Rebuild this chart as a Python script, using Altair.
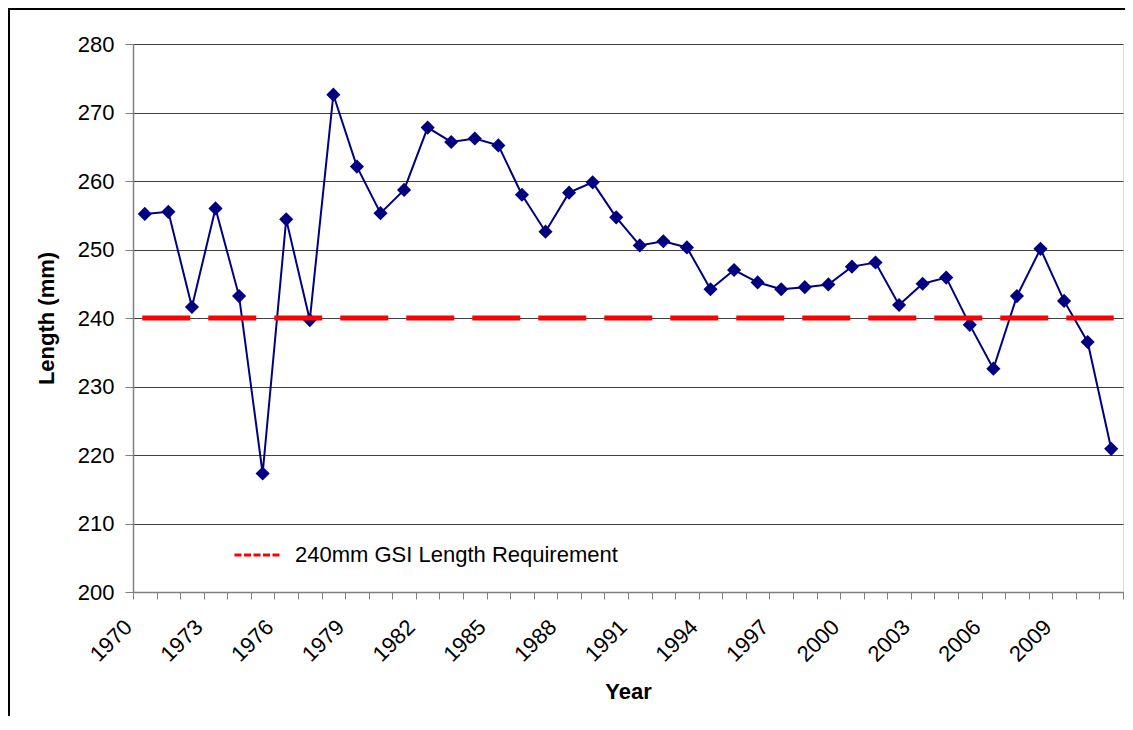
import altair as alt
import pandas as pd

FONT = "Liberation Sans"

years = list(range(1970, 2012))
lengths = [255.2, 255.5, 241.6, 256.0, 243.2, 217.3, 254.4, 239.7, 272.6, 262.1,
           255.3, 258.7, 267.8, 265.7, 266.2, 265.2, 258.0, 252.6, 258.3, 259.8,
           254.7, 250.6, 251.2, 250.3, 244.2, 247.0, 245.2, 244.2, 244.5, 244.9,
           247.5, 248.1, 241.9, 245.0, 245.9, 239.0, 232.6, 243.2, 250.1, 242.5,
           236.5, 220.9]
req_years = [1970, 2011]
req_values = [240, 240]
req_label = "240mm GSI Length Requirement"
y_ticks = [200, 210, 220, 230, 240, 250, 260, 270, 280]
# category boundaries (Excel-style ticks between categories)
x_ticks = [y - 0.5 for y in years] + [years[-1] + 0.5]

df = pd.DataFrame({"year": years, "length": lengths})
req = pd.DataFrame({"year": req_years, "length": req_values, "series": [req_label] * 2})

x_scale = alt.Scale(domain=[x_ticks[0], x_ticks[-1]], nice=False, zero=False)
y_scale = alt.Scale(domain=[200, 280], nice=False, zero=False)

x_axis = alt.Axis(
    values=x_ticks,
    labelExpr="((datum.value + 0.5 - 1970) % 3 == 0 && datum.value < 2011) ? format(datum.value + 0.5, 'd') : ''",
    labelAngle=315, labelAlign="right", labelBaseline="alphabetic",
    labelFont=FONT, labelFontSize=22, labelColor="black", labelPadding=29,
    labelOverlap=False, labelFlush=False, labelBound=False,
    tickSize=7, tickColor="#808080", domainColor="#808080", domainWidth=1.5,
    grid=False,
    title="Year", titleFont=FONT, titleFontSize=22, titleFontWeight="bold",
    titleColor="black", titlePadding=16,
)
y_axis = alt.Axis(
    values=y_ticks, labelFont=FONT, labelFontSize=22, labelColor="black",
    labelPadding=11, tickSize=8, tickColor="#808080", domainColor="#808080",
    domainWidth=1.5, grid=True, gridColor="#404040", gridWidth=1,
    title="Length (mm)", titleFont=FONT, titleFontSize=22, titleFontWeight="bold",
    titleColor="black", titlePadding=19,
)

X = alt.X("year:Q", scale=x_scale, axis=x_axis)
Y = alt.Y("length:Q", scale=y_scale, axis=y_axis)

base = alt.Chart(df).encode(x=X, y=Y)

navy_line = base.mark_line(color="#000080", strokeWidth=2)
navy_pts = base.mark_point(shape="diamond", filled=True, color="#000080", size=200, opacity=1)

red_line = alt.Chart(req).mark_line(strokeWidth=5, strokeDash=[43, 23], strokeCap="square").encode(
    x=X,
    y=Y,
    color=alt.Color(
        "series:N",
        scale=alt.Scale(range=["#FF0000"]),
        legend=alt.Legend(
            title=None, orient="none", legendX=100, legendY=486, padding=0,
            symbolType="stroke", symbolSize=2209, symbolStrokeWidth=3,
            symbolDash=[7, 2.5], symbolStrokeColor="#FF0000",
            labelFont=FONT, labelFontSize=22, labelColor="black", labelOffset=12,
            labelLimit=0,
        ),
    ),
)

border = alt.Chart(alt.Data(values=[{}])).mark_rect(
    filled=False, stroke="black", strokeWidth=2, clip=False
).encode(
    x=alt.value(-124), y=alt.value(-35), x2=alt.value(1100), y2=alt.value(800)
)

chart = alt.layer(navy_line, navy_pts, red_line, border).properties(
    width=990, height=548,
    autosize=alt.AutoSizeParams(type="none"),
    padding={"left": 125, "top": 36, "right": 2, "bottom": 124},
).configure_view(stroke=None).configure(background="white")

chart.save("out.html", embed_options={"renderer": "svg", "actions": False})
